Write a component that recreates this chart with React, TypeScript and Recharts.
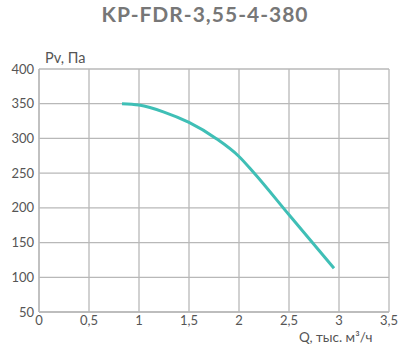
import React from "react";
import { LineChart, Line, XAxis, YAxis, CartesianGrid } from "recharts";

const flowQ = [0.83, 1.0, 1.25, 1.5, 1.77, 2.0, 2.14, 2.5, 2.95];
const pressurePv = [350, 348, 338, 323, 300, 274, 252, 190, 113];
const xTicks = [0, 0.5, 1, 1.5, 2, 2.5, 3, 3.5];
const yTicks = [50, 100, 150, 200, 250, 300, 350, 400];
const title = "KP-FDR-3,55-4-380";
const yLabel = "Pv, Па";
const xLabel = "Q, тыс. м³/ч";

const data = flowQ.map((q, i) => ({ q, p: pressurePv[i] }));
const fmt = (v: number) => String(v).replace(".", ",");
const tickStyle = { fontFamily: "Lato, sans-serif", fontSize: 13, fill: "#555" };

export default function App() {
  return (
    <div style={{ position: "absolute", left: 0, top: 0, width: 410, height: 354, background: "#fff" }}>
      <div style={{ position: "absolute", left: 0, top: 1, width: 410, textAlign: "center", fontFamily: "Lato, sans-serif", fontWeight: 700, fontSize: 21, letterSpacing: 1, color: "#777" }}>{title}</div>
      <div style={{ position: "absolute", left: 45, top: 49, fontFamily: "Lato, sans-serif", fontSize: 14.5, color: "#555" }}>{yLabel}</div>
      <div style={{ position: "absolute", left: 299, top: 329, fontFamily: "Lato, sans-serif", fontSize: 13.5, color: "#555" }}>{xLabel}</div>
      <LineChart width={410} height={354} data={data} margin={{ top: 69, right: 21, bottom: 14, left: 4 }}>
        <CartesianGrid stroke="#b8b8b8" strokeWidth={1.3} />
        <XAxis
          dataKey="q"
          type="number"
          domain={[0, 3.5]}
          ticks={xTicks}
          tickFormatter={fmt}
          tickLine={false}
          tickSize={0}
          tickMargin={4}
          height={28}
          axisLine={{ stroke: "#b8b8b8", strokeWidth: 1.3 }}
          tick={tickStyle}
          interval={0}
        />
        <YAxis
          type="number"
          domain={[50, 400]}
          ticks={yTicks}
          tickLine={false}
          tickSize={0}
          tickMargin={5}
          width={35}
          axisLine={{ stroke: "#b8b8b8", strokeWidth: 1.3 }}
          tick={tickStyle}
          interval={0}
        />
        <Line type="monotone" dataKey="p" stroke="#3fbfb6" strokeWidth={3} dot={false} isAnimationActive={false} />
      </LineChart>
    </div>
  );
}
